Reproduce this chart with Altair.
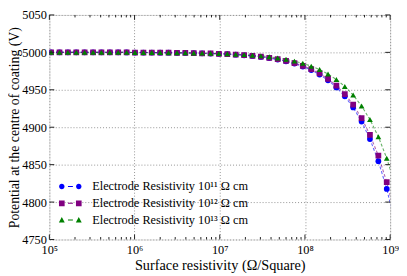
import altair as alt
import pandas as pd

# x positions (log10 of surface resistivity), evenly spaced in log; last one lies beyond 1e9 and is clipped
exponents = [5.020, 5.119, 5.217, 5.316, 5.414, 5.513, 5.611, 5.710, 5.808, 5.907,
             6.005, 6.104, 6.202, 6.301, 6.399, 6.498, 6.596, 6.695, 6.793, 6.892,
             6.990, 7.089, 7.187, 7.286, 7.384, 7.483, 7.581, 7.680, 7.778, 7.877,
             7.975, 8.074, 8.172, 8.271, 8.369, 8.468, 8.566, 8.665, 8.763, 8.862,
             8.960, 9.059]

blue_vals = [5000.0, 5000.0, 5000.0, 5000.0, 5000.0, 5000.0, 5000.0, 5000.0, 5000.0, 4999.9,
             4999.8, 4999.8, 4999.7, 4999.6, 4999.5, 4999.4, 4999.2, 4999.0, 4998.8, 4998.4,
             4998.0, 4997.5, 4996.9, 4996.1, 4995.2, 4993.9, 4992.4, 4990.4, 4988.0, 4985.0,
             4981.1, 4976.3, 4970.3, 4962.7, 4953.2, 4941.3, 4926.4, 4907.6, 4884.1, 4854.6,
             4817.6, 4771.2]
purple_vals = [5000.0, 5000.0, 5000.0, 5000.0, 5000.0, 5000.0, 5000.0, 5000.0, 5000.0, 4999.9,
               4999.8, 4999.8, 4999.7, 4999.6, 4999.5, 4999.4, 4999.2, 4999.1, 4998.8, 4998.5,
               4998.1, 4997.7, 4997.1, 4996.3, 4995.4, 4994.2, 4992.8, 4990.9, 4988.6, 4985.7,
               4982.1, 4977.5, 4971.8, 4964.6, 4955.6, 4944.2, 4930.1, 4912.2, 4889.9, 4861.9,
               4826.7, 4782.6]
green_vals = [5000.0, 5000.0, 5000.0, 5000.0, 5000.0, 5000.0, 5000.0, 5000.0, 5000.0, 5000.0,
              4999.9, 4999.9, 4999.8, 4999.7, 4999.6, 4999.5, 4999.4, 4999.2, 4999.0, 4998.8,
              4998.5, 4998.1, 4997.6, 4997.0, 4996.2, 4995.3, 4994.1, 4992.6, 4990.7, 4988.3,
              4985.4, 4981.6, 4977.0, 4971.1, 4963.7, 4954.5, 4942.9, 4928.4, 4910.2, 4887.3,
              4858.6, 4822.7]

series_names = ["Electrode Resistivity 10\u00b9\u00b9 \u03a9 cm",
                "Electrode Resistivity 10\u00b9\u00b2 \u03a9 cm",
                "Electrode Resistivity 10\u00b9\u00b3 \u03a9 cm"]
colors = ["#0000ff", "#800080", "#008000"]
shapes = ["circle", "square", "triangle-up"]

x_major = [1e5, 1e6, 1e7, 1e8, 1e9]
x_minor = [2e5, 3e5, 4e5, 5e5, 6e5, 7e5, 8e5, 9e5,
           2e6, 3e6, 4e6, 5e6, 6e6, 7e6, 8e6, 9e6,
           2e7, 3e7, 4e7, 5e7, 6e7, 7e7, 8e7, 9e7,
           2e8, 3e8, 4e8, 5e8, 6e8, 7e8, 8e8, 9e8]
y_ticks = [4750, 4800, 4850, 4900, 4950, 5000, 5050]

# legend symbols: marker - dash - marker
legend_paths = [
    "M -1.98,0 A 0.48,0.48 0 1,0 -1.02,0 A 0.48,0.48 0 1,0 -1.98,0 Z "
    "M 1.02,0 A 0.48,0.48 0 1,0 1.98,0 A 0.48,0.48 0 1,0 1.02,0 Z "
    "M -0.41,-0.09 L 0.46,-0.09 L 0.46,0.09 L -0.41,0.09 Z",
    "M -2.0,-0.5 L -1.0,-0.5 L -1.0,0.5 L -2.0,0.5 Z "
    "M 1.0,-0.5 L 2.0,-0.5 L 2.0,0.5 L 1.0,0.5 Z "
    "M -0.41,-0.09 L 0.46,-0.09 L 0.46,0.09 L -0.41,0.09 Z",
    "M -1.5,-0.55 L -0.98,0.45 L -2.02,0.45 Z "
    "M 1.5,-0.55 L 2.02,0.45 L 0.98,0.45 Z "
    "M -0.41,-0.09 L 0.46,-0.09 L 0.46,0.09 L -0.41,0.09 Z",
]

W, H = 346, 228
FONT = "Liberation Serif"

rows = []
for name, vals in zip(series_names, [blue_vals, purple_vals, green_vals]):
    for e, v in zip(exponents, vals):
        rows.append({"series": name, "R": 10 ** e, "V": v})
df = pd.DataFrame(rows)

xscale = alt.Scale(type="log", domain=[1e5, 1e9], nice=False)
yscale = alt.Scale(domain=[4750, 5050], nice=False, zero=False)
color_scale = alt.Scale(domain=series_names, range=colors)

sup = "['\u2070','\u00b9','\u00b2','\u00b3','\u2074','\u2075','\u2076','\u2077','\u2078','\u2079']"

x_axis = alt.Axis(values=x_major, labelExpr="'10' + " + sup + "[round(log(datum.value)/LN10)]",
                  grid=True, gridDash=[1, 2], gridColor="#888", gridWidth=0.9,
                  ticks=False, domain=False, labelFlush=False,
                  labelFont=FONT, labelFontSize=12.5, labelColor="black", labelPadding=4,
                  title="Surface resistivity (\u03a9/Square)", titleFont=FONT, titleFontSize=14.5,
                  titleFontWeight="normal", titleColor="black", titlePadding=3)
y_axis = alt.Axis(values=y_ticks, format="d",
                  grid=True, gridDash=[1, 2], gridColor="#888", gridWidth=0.9,
                  ticks=False, domain=False, labelFlush=False,
                  labelFont=FONT, labelFontSize=12.5, labelColor="black", labelPadding=3,
                  title="Potential at the centre of coating (V)", titleFont=FONT, titleFontSize=14,
                  titleFontWeight="normal", titleColor="black", titlePadding=0)

base = alt.Chart(df).encode(
    x=alt.X("R:Q", scale=xscale, axis=x_axis),
    y=alt.Y("V:Q", scale=yscale, axis=y_axis),
    color=alt.Color("series:N", scale=color_scale, legend=None),
)
lines = base.mark_line(strokeDash=[3, 2], strokeWidth=1.1, opacity=0.6, clip=True)
points = base.mark_point(filled=True, size=34, opacity=1, clip=True).encode(
    shape=alt.Shape("series:N", scale=alt.Scale(domain=series_names, range=shapes), legend=None)
)

legend_df = pd.DataFrame({"series": series_names})
legend_layer = alt.Chart(legend_df).mark_point(filled=True, size=132, clip=True).encode(
    x=alt.value(-80), y=alt.value(-80),
    color=alt.Color("series:N", scale=color_scale, legend=None),
    shape=alt.Shape("series:N", scale=alt.Scale(domain=series_names, range=legend_paths),
                    legend=alt.Legend(title=None, orient="none", legendX=15, legendY=168,
                                      symbolSize=132, symbolStrokeWidth=0, symbolOpacity=1,
                                      symbolFillColor=alt.ExprRef(expr="scale('color', datum.value)"),
                                      labelFont=FONT, labelFontSize=12.5, labelColor="black",
                                      labelOffset=16, rowPadding=4, padding=0, labelLimit=400)),
)

xmaj_df = pd.DataFrame({"t": x_major})
xmin_df = pd.DataFrame({"t": x_minor})
y_df = pd.DataFrame({"t": y_ticks})

def xtick(d, y1, y2):
    return alt.Chart(d).mark_rule(color="#222", strokeWidth=1).encode(
        x=alt.X("t:Q", scale=xscale, axis=x_axis), y=alt.value(y1), y2=alt.value(y2))

def ytick(x1, x2):
    return alt.Chart(y_df).mark_rule(color="#222", strokeWidth=1).encode(
        y=alt.Y("t:Q", scale=yscale, axis=y_axis), x=alt.value(x1), x2=alt.value(x2))

ticks = [xtick(xmaj_df, H, H - 5), xtick(xmaj_df, 0, 5),
         xtick(xmin_df, H, H - 2.5), xtick(xmin_df, 0, 2.5),
         ytick(0, 5), ytick(W, W - 5)]

chart = alt.layer(lines, points, legend_layer, *ticks).resolve_scale(shape="independent").properties(
    width=W, height=H,
    autosize=alt.AutoSizeParams(type="none"),
    padding={"left": 42, "top": 5, "right": 9, "bottom": 34},
).configure_view(stroke="#222", strokeWidth=1.3).configure(background="white")

chart.save("out.html", embed_options={"renderer": "svg", "actions": False})
